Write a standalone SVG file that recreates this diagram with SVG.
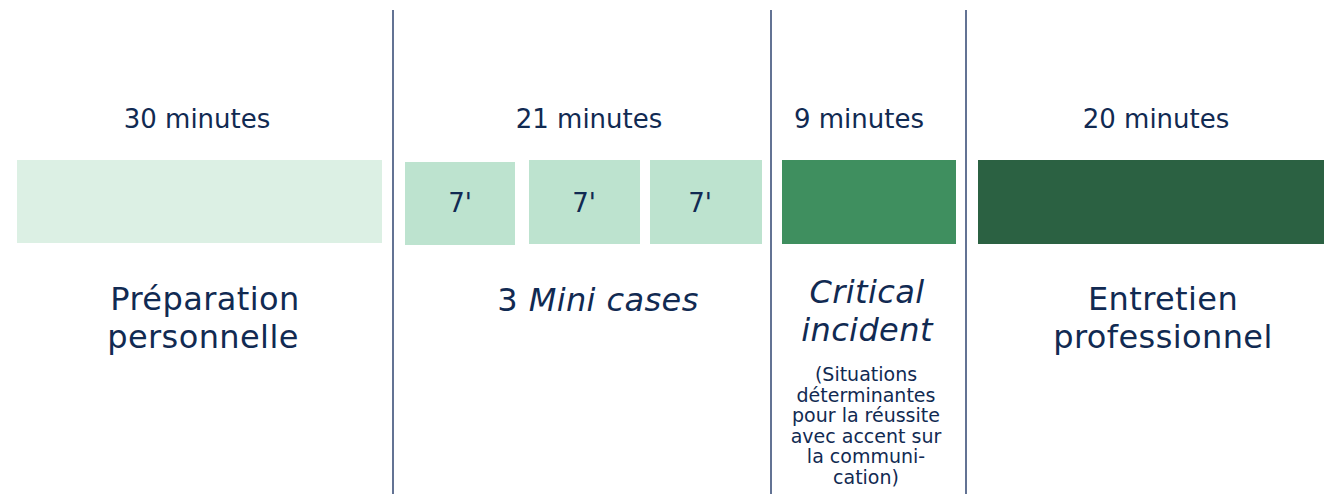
<svg xmlns="http://www.w3.org/2000/svg" width="1324" height="494" viewBox="0 0 1324 494">
<style>
text{font-family:"DejaVu Sans","Liberation Sans",sans-serif;fill:#112a52;text-anchor:middle}
.min{font-size:26px}
.lbl{font-size:32px;letter-spacing:0.4px}
.it{font-style:italic}
.sm{font-size:19px}
.sep{stroke:#2f4470;stroke-width:1.5}
</style>
<rect width="1324" height="494" fill="#ffffff"/>
<g id="separators">
<line class="sep" x1="393" y1="10" x2="393" y2="494"/>
<line class="sep" x1="771" y1="10" x2="771" y2="494"/>
<line class="sep" x1="966" y1="10" x2="966" y2="494"/>
</g>
<g id="prep">
<text class="min" x="197" y="128">30 minutes</text>
<rect x="17" y="160" width="365" height="83" fill="#dcf0e4"/>
<text class="lbl" x="205" y="310">Préparation</text>
<text class="lbl" x="203" y="348">personnelle</text>
</g>
<g id="mini">
<text class="min" x="589" y="128">21 minutes</text>
<rect x="405" y="162" width="110" height="83" fill="#bde3cf"/>
<rect x="529" y="160" width="111" height="84" fill="#bde3cf"/>
<rect x="650" y="160" width="112" height="84" fill="#bde3cf"/>
<text class="min" x="460" y="212">7'</text>
<text class="min" x="584" y="212">7'</text>
<text class="min" x="700" y="212">7'</text>
<text class="lbl" x="598" y="311">3 <tspan class="it">Mini cases</tspan></text>
</g>
<g id="critical">
<text class="min" x="859" y="128">9 minutes</text>
<rect x="782" y="160" width="174" height="84" fill="#3f8f5f"/>
<text class="lbl it" x="867" y="303">Critical</text>
<text class="lbl it" x="867" y="341">incident</text>
<text class="sm" x="866" y="381">(Situations</text>
<text class="sm" x="866" y="402">déterminantes</text>
<text class="sm" x="866" y="422">pour la réussite</text>
<text class="sm" x="866" y="443">avec accent sur</text>
<text class="sm" x="866" y="463">la communi-</text>
<text class="sm" x="866" y="484">cation)</text>
</g>
<g id="entretien">
<text class="min" x="1156" y="128">20 minutes</text>
<rect x="978" y="160" width="346" height="84" fill="#2b6142"/>
<text class="lbl" x="1163" y="310">Entretien</text>
<text class="lbl" x="1163" y="348">professionnel</text>
</g>
</svg>
